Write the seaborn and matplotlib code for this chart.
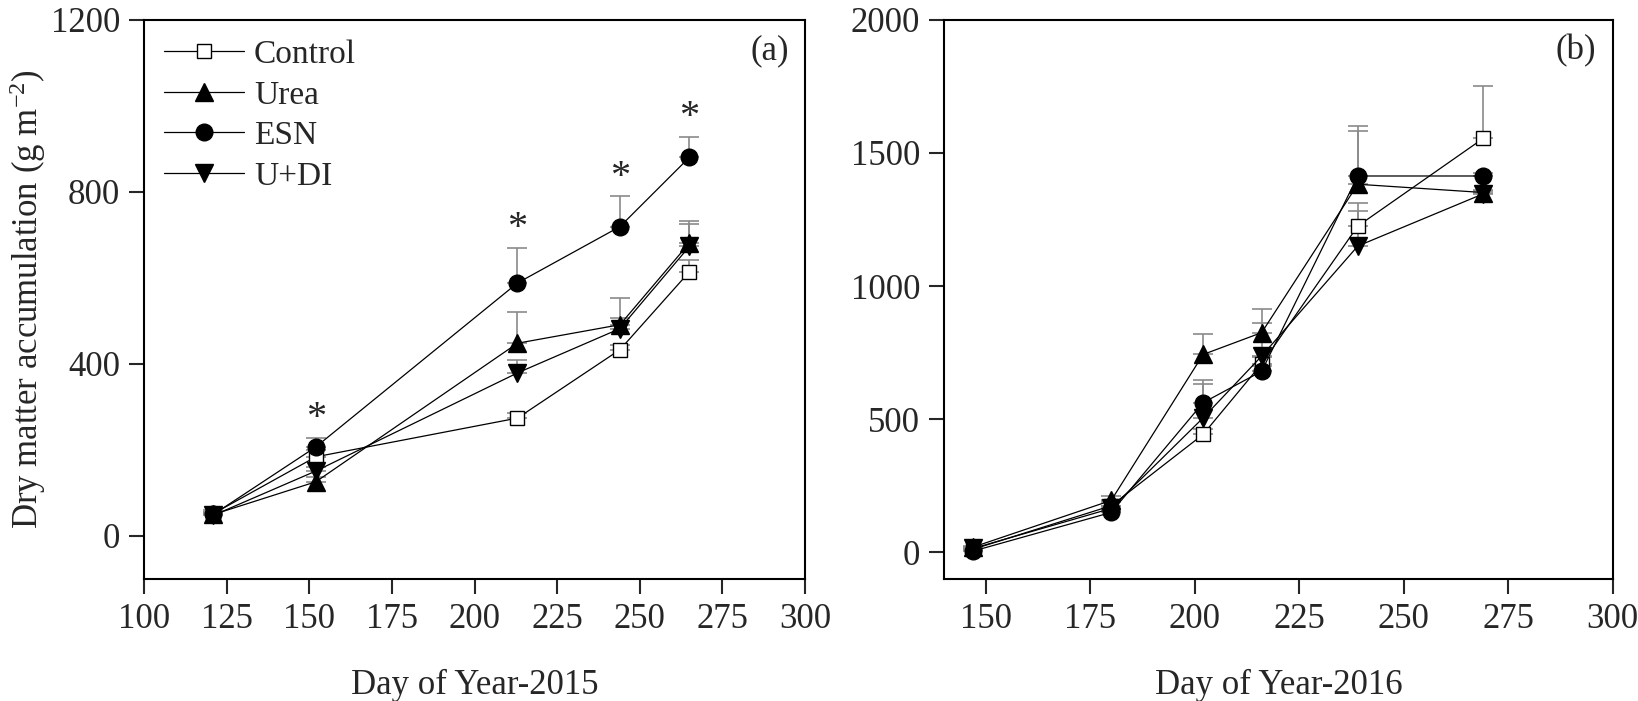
import numpy as np
import pandas as pd
import matplotlib.pyplot as plt
import seaborn as sns

# Data (dry matter, g m-2)
days_2015 = [121, 152, 213, 244, 265]
control_2015 = [52, 184, 274, 433, 614]
urea_2015 = [50, 126, 448, 491, 681]
esn_2015 = [50, 207, 588, 719, 880]
udi_2015 = [48, 151, 379, 482, 673]
control_2015_se = [8, 15, 12, 12, 28]
urea_2015_se = [5, 10, 72, 63, 50]
esn_2015_se = [5, 20, 81, 70, 48]
udi_2015_se = [5, 10, 30, 25, 52]
sig_days_2015 = [152, 213, 244, 265]

days_2016 = [147, 180, 202, 216, 239, 269]
control_2016 = [12, 175, 443, 708, 1225, 1554]
urea_2016 = [20, 195, 743, 825, 1382, 1351]
esn_2016 = [5, 150, 562, 680, 1413, 1413]
udi_2016 = [15, 165, 505, 737, 1150, 1346]
control_2016_se = [5, 15, 20, 25, 85, 195]
urea_2016_se = [5, 15, 75, 90, 200, 10]
esn_2016_se = [5, 10, 87, 20, 188, 10]
udi_2016_se = [5, 10, 126, 126, 130, 10]

treatments = ['Control', 'Urea', 'ESN', 'U+DI']
markers = {'Control': 's', 'Urea': '^', 'ESN': 'o', 'U+DI': 'v'}
msize = {'Control': 10, 'Urea': 13, 'ESN': 12, 'U+DI': 13}
mface = {'Control': 'white', 'Urea': 'black', 'ESN': 'black', 'U+DI': 'black'}

sns.set_style('ticks')
plt.rcParams['font.family'] = ['Liberation Serif', 'DejaVu Serif']
plt.rcParams['mathtext.fontset'] = 'custom'
plt.rcParams['mathtext.rm'] = 'Liberation Serif'
plt.rcParams['mathtext.it'] = 'Liberation Serif:italic'
FS = 25

fig = plt.figure(figsize=(16.38, 7.01), dpi=100)
ax1 = fig.add_axes([0.0879, 0.174, 0.4036, 0.798])
ax2 = fig.add_axes([0.5763, 0.174, 0.4083, 0.798])


def draw_panel(ax, days, means, ses):
    for t in treatments:
        ax.errorbar(days, means[t], yerr=[np.zeros(len(days)), ses[t]], fmt='none',
                    ecolor='#8a8a8a', elinewidth=1.2, capsize=7, capthick=1.2, zorder=1)
    for t in treatments:
        df = pd.DataFrame({'day': days, 'dm': means[t]})
        sns.lineplot(data=df, x='day', y='dm', ax=ax, color='black', linewidth=0.9,
                     marker=markers[t], markersize=msize[t], markerfacecolor=mface[t],
                     markeredgecolor='black', markeredgewidth=1.0, label=t, zorder=3)


means_a = {'Control': control_2015, 'Urea': urea_2015, 'ESN': esn_2015, 'U+DI': udi_2015}
ses_a = {'Control': control_2015_se, 'Urea': urea_2015_se, 'ESN': esn_2015_se, 'U+DI': udi_2015_se}
means_b = {'Control': control_2016, 'Urea': urea_2016, 'ESN': esn_2016, 'U+DI': udi_2016}
ses_b = {'Control': control_2016_se, 'Urea': urea_2016_se, 'ESN': esn_2016_se, 'U+DI': udi_2016_se}

draw_panel(ax1, days_2015, means_a, ses_a)
draw_panel(ax2, days_2016, means_b, ses_b)

# significance stars above ESN bars
for d in sig_days_2015:
    i = days_2015.index(d)
    ax1.text(d, esn_2015[i] + esn_2015_se[i] + 45, '*', ha='center', va='center', fontsize=FS + 4)

ax1.set_xlim(100, 300)
ax1.set_ylim(-100, 1200)
ax1.set_xticks(range(100, 301, 25))
ax1.set_yticks([0, 400, 800, 1200])
ax2.set_xlim(140, 300)
ax2.set_ylim(-100, 2000)
ax2.set_xticks(range(150, 301, 25))
ax2.set_yticks(range(0, 2001, 500))

ax1.set_ylabel('Dry matter accumulation (g m$^{-2}$)', fontsize=FS, labelpad=2)
ax1.set_xlabel('Day of Year-2015', fontsize=FS, labelpad=24)
ax2.set_xlabel('Day of Year-2016', fontsize=FS, labelpad=24)
ax2.set_ylabel('')

for ax, tag in [(ax1, '(a)'), (ax2, '(b)')]:
    for s in ax.spines.values():
        s.set_linewidth(1.5)
        s.set_color('black')
    ax.tick_params(axis='both', direction='out', length=11, width=1.5, labelsize=FS, pad=6)
    ax.text(0.975, 0.945, tag, transform=ax.transAxes, ha='right', va='center', fontsize=FS)

ax1.legend(loc='upper left', frameon=False, fontsize=FS - 1, handlelength=2.4,
           handletextpad=0.3, labelspacing=0.3, borderaxespad=0.2, bbox_to_anchor=(0.0, 1.0))
ax2.get_legend().remove()

plt.savefig('out.png', dpi=100)
